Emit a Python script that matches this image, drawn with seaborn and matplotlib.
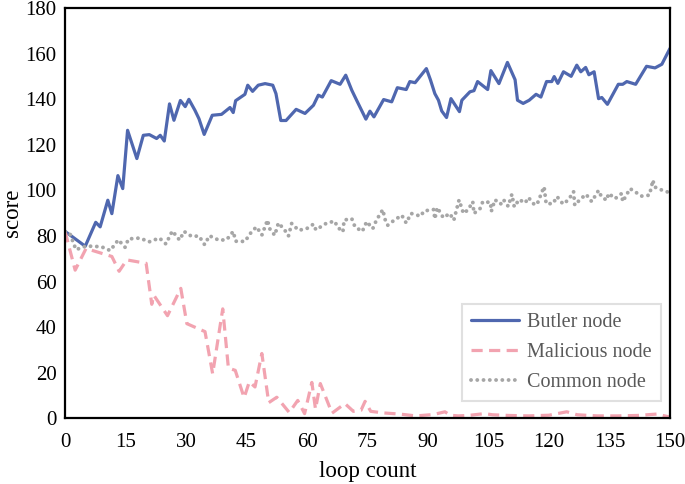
import matplotlib
matplotlib.use("Agg")
import matplotlib.pyplot as plt
import seaborn as sns
import pandas as pd

# ---------------- data ----------------
butler_x = [0, 5, 7.6, 8.7, 10.6, 11.6, 13.1, 14.3, 15.5, 17.8, 19.4, 20.9, 22.7, 23.6, 24.6,
            25.9, 27, 28.6, 29.8, 30.7, 32.2, 33.2, 34.5, 36.5, 38.8, 40.9, 41.7, 42.3, 44.6,
            45.3, 46.5, 47.9, 49.6, 51.5, 52.3, 53.5, 54.8, 57.3, 59.5, 61.6, 62.8, 63.8, 66,
            68.2, 69.6, 71.1, 72.3, 74.6, 75.6, 76.6, 79, 81, 82.4, 84.6, 85.5, 86.8, 89.6,
            90.6, 91.7, 92.6, 93.4, 94.6, 95.7, 97.8, 98.4, 100.4, 101.4, 102.3, 104.8, 105.6,
            107.6, 109.7, 111.6, 112.2, 113.6, 115.1, 116.8, 118, 119.4, 120.7, 121.3, 122.2,
            123.6, 125.5, 126.9, 127.9, 129.1, 129.9, 131.2, 132.3, 133.1, 134.5, 137.2, 138.3,
            139.3, 141.5, 144.2, 146.3, 148, 150]
butler_y = [82, 75.5, 86, 84, 95.7, 89.8, 106.5, 100.8, 126.4, 114, 124.2, 124.5, 122.8, 124.2,
            121.7, 138, 130.8, 139.5, 136.8, 140, 135.2, 131.5, 124.6, 133, 133.4, 136.4, 134.2,
            139.4, 142.2, 146.2, 143.5, 146.2, 146.9, 146.2, 142.5, 130.7, 130.7, 135.6, 133.8,
            137.4, 141.8, 141, 148.2, 146.6, 150.6, 144, 139.6, 131.3, 134.8, 132.3, 139.9,
            138.9, 145.1, 144.3, 147.8, 147.3, 153.5, 148.6, 142.5, 139.6, 134.9, 132, 140.3,
            134.6, 139.6, 143.3, 143.8, 147.8, 144.3, 152.6, 146.9, 156.2, 148.6, 139.6, 138.2,
            139.6, 142.2, 141, 147.8, 147.8, 150, 147, 152.1, 150.1, 155, 152.1, 154, 150.8,
            152.1, 140.3, 140.8, 137.8, 146.6, 146.6, 147.8, 146.6, 154.5, 153.8, 155.4, 162.3]

malicious_x = [0, 2.5, 5.2, 11.6, 13.4, 15.3, 20.1, 21.5, 22, 25.4, 28.7, 30.2, 34.7, 36.6,
               39.1, 40.5, 42.2, 44.4, 45.7, 47.1, 48.8, 50.5, 52.5, 55.6, 57.7, 59.4, 61.2,
               62.1, 63.3, 66.2, 69.4, 71.5, 73.4, 74.4, 75.8, 79, 83, 87, 91.3, 94.2, 95.5,
               97.5, 100, 104, 106, 110, 115, 120, 124.4, 127, 132, 137, 142, 146.7, 150]
malicious_y = [82, 65, 74.5, 71, 64.5, 69.5, 68, 50, 54, 45, 57, 41.5, 38, 19.5, 48, 22, 21, 9,
               16, 13.7, 28.4, 6.8, 9.2, 2.5, 7.8, 2, 15.7, 4, 15.2, 2.2, 6.4, 3, 3.5, 7.4, 3,
               2.3, 1.8, 1, 1.6, 2.8, 1.3, 1, 1.2, 2, 1.5, 1.2, 1.0, 1.3, 2.8, 1.5, 1.0, 1.0,
               1.2, 1.8, 0.5]

common_x = [0, 1.2, 2.7, 5.1, 7, 9.1, 11.2, 13.2, 14.9, 15.7, 18.6, 20.8, 23.4, 25, 26.6, 28.4,
            29.5, 31.4, 33.2, 34.6, 35.8, 38.2, 40.1, 41.7, 42.3, 44.6, 46.3, 47.5, 48.8, 50.2,
            50.7, 52, 52.9, 54.4, 55.4, 56.2, 57.9, 59.9, 61.6, 62.2, 64.9, 66.9, 67.5, 68.9,
            69.2, 71.1, 71.9, 73.7, 74.8, 76.3, 77.2, 78.8, 79.3, 80, 81.6, 83.5, 84.6, 85.8,
            88.2, 89, 91.4, 91.7, 92.3, 93.8, 95.4, 96.4, 97.7, 98.8, 100, 101.1, 101.4, 102.9,
            103.6, 105.5, 105.7, 106.6, 108, 108.7, 109.9, 110.8, 111.4, 112.6, 114.1, 114.9,
            116.5, 117.4, 118, 118.8, 119.3, 121, 122, 123.5, 124.9, 126.1, 126.4, 127.7, 129.2,
            130.6, 132.3, 133, 134.3, 134.8, 136.4, 138, 138.3, 140.1, 141.7, 142.9, 144.9,
            145.8, 146.1, 148.2, 150]
common_y = [82, 81, 74, 75.5, 75.5, 75.2, 73.6, 78.3, 75, 78.7, 79.1, 77.4, 79.1, 76.5, 82.2,
            78.2, 82, 79.8, 80, 76.2, 80.1, 78.1, 78.4, 82, 77.7, 77.6, 82, 84, 80.4, 87, 83.3,
            80.3, 85.7, 82.8, 80, 85.5, 82.5, 83.2, 85.2, 82.7, 85.7, 86.5, 84, 81.8, 87, 87.6,
            84, 82, 86.3, 83.2, 86.9, 91.6, 87.5, 84.7, 86.9, 89.1, 85.7, 89.9, 88.7, 91, 91.6,
            87.5, 92.5, 88, 89.9, 86.9, 95.8, 89.9, 91.6, 95.1, 89.9, 92, 95.1, 94.7, 90.8, 95.9,
            94, 96, 93, 98.3, 92.8, 96, 94.5, 96.9, 93.5, 95.1, 98.3, 101.6, 94.2, 94.2, 97.3,
            94, 96, 99.5, 93.5, 96, 98.3, 95.1, 100, 97.3, 95.7, 98.7, 96.4, 98.6, 95.1, 100.8,
            99, 97.5, 97.9, 104.5, 101.6, 100, 99]

series_names = ["Butler node", "Malicious node", "Common node"]
x_ticks = [0, 15, 30, 45, 60, 75, 90, 105, 120, 135, 150]
y_ticks = [0, 20, 40, 60, 80, 100, 120, 140, 160, 180]

# ---------------- style ----------------
sns.set_theme(style="white")
plt.rcParams["font.family"] = ["Liberation Serif", "DejaVu Serif"]

colors = {"Butler node": "#4F67AF", "Malicious node": "#F2A3B0", "Common node": "#A6A6A6"}

fig = plt.figure(figsize=(6.85, 4.84), dpi=100)
ax = fig.add_axes([0.095, 0.136, 0.883, 0.847])

df_b = pd.DataFrame({"x": butler_x, "y": butler_y})
df_m = pd.DataFrame({"x": malicious_x, "y": malicious_y})
df_c = pd.DataFrame({"x": common_x, "y": common_y})

sns.lineplot(data=df_b, x="x", y="y", ax=ax, estimator=None, sort=False,
             color=colors["Butler node"], linewidth=2.3, label=series_names[0])
sns.lineplot(data=df_m, x="x", y="y", ax=ax, estimator=None, sort=False,
             color=colors["Malicious node"], linewidth=2.3, label=series_names[1])
sns.lineplot(data=df_c, x="x", y="y", ax=ax, estimator=None, sort=False,
             color=colors["Common node"], linewidth=2.8, label=series_names[2])

lines = ax.get_lines()
lines[1].set_dashes([3.5, 2.0])
lines[1].set_dash_capstyle("butt")
lines[2].set_dashes([0.01, 1.6])
lines[2].set_dash_capstyle("round")

ax.set_xlim(0, 150)
ax.set_ylim(0, 180)
ax.set_xticks(x_ticks)
ax.set_yticks(y_ticks)
ax.tick_params(axis="both", length=0, labelsize=15, colors="black")
ax.tick_params(axis="x", pad=11)
ax.tick_params(axis="y", pad=6)
ax.set_xlabel("loop count", fontsize=16.5, color="black", labelpad=6)
ax.set_ylabel("score", fontsize=16.5, color="black", labelpad=2)
for s in ax.spines.values():
    s.set_visible(True)
    s.set_color("black")
    s.set_linewidth(1.6)

leg = ax.legend(loc="lower right", bbox_to_anchor=(0.985, 0.041), borderaxespad=0,
                fontsize=14.5, frameon=True, fancybox=False, handlelength=2.4,
                labelspacing=0.55, borderpad=0.45, handletextpad=0.4)
leg.get_frame().set_edgecolor("#D9D9D9")
leg.get_frame().set_linewidth(1.5)
for t in leg.get_texts():
    t.set_color("#595959")
hl = leg.get_lines()
hl[1].set_dashes([3.5, 2.0])
hl[2].set_dashes([0.01, 1.6])
hl[2].set_dash_capstyle("round")

fig.savefig("out.png", dpi=100)
